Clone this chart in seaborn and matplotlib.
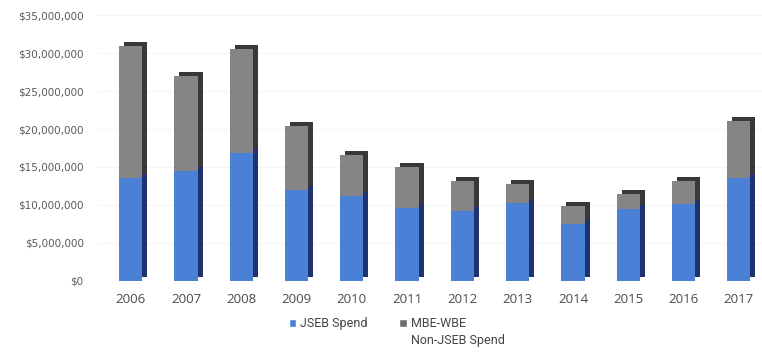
import matplotlib
matplotlib.use("Agg")
import matplotlib.pyplot as plt
import matplotlib.transforms as mtransforms
from matplotlib.patches import Patch
from matplotlib.ticker import FuncFormatter
import seaborn as sns
import pandas as pd

years = ["2006", "2007", "2008", "2009", "2010", "2011", "2012", "2013", "2014", "2015", "2016", "2017"]
jseb_spend = [13.6, 14.5, 16.8, 12.0, 11.2, 9.6, 9.2, 10.3, 7.5, 9.5, 10.1, 13.6]  # $ millions
total_spend = [30.9, 27.0, 30.5, 20.4, 16.6, 15.0, 13.2, 12.8, 9.9, 11.4, 13.2, 21.0]  # $ millions
non_jseb_spend = [t - j for t, j in zip(total_spend, jseb_spend)]
y_ticks = [0, 5, 10, 15, 20, 25, 30, 35]
series_names = ["JSEB Spend", "MBE-WBE", "Non-JSEB Spend"]

df = pd.DataFrame({
    "year": years,
    "jseb": [v * 1e6 for v in jseb_spend],
    "total": [(j + n) * 1e6 for j, n in zip(jseb_spend, non_jseb_spend)],
})

sns.set_theme(style="white")
fig = plt.figure(figsize=(7.62, 3.61), dpi=100)
ax = fig.add_axes([0.128, 0.222, 0.872, 0.736])

BW = 0.42
# 3D side/top faces: darker copies shifted right/up
n0 = len(ax.patches)
sns.barplot(data=df, x="year", y="total", color="#383838", saturation=1, width=BW, ax=ax)
sns.barplot(data=df, x="year", y="jseb", color="#1f3370", saturation=1, width=BW, ax=ax)
shift = mtransforms.offset_copy(ax.transData, fig=fig, x=5, y=4, units="dots")
for p in ax.patches[n0:]:
    p.set_transform(shift)
    p.set_linewidth(0)
# front faces
sns.barplot(data=df, x="year", y="total", color="#858585", saturation=1, width=BW, ax=ax)
sns.barplot(data=df, x="year", y="jseb", color="#4a80d6", saturation=1, width=BW, ax=ax)
for p in ax.patches:
    p.set_linewidth(0)

ax.set_xlim(-0.6, 11.42)
ax.set_ylim(0, 35e6)
ax.set_yticks([v * 1e6 for v in y_ticks])
ax.yaxis.set_major_formatter(FuncFormatter(lambda v, _: "$0" if v == 0 else "${:,.0f}".format(v)))
ax.grid(axis="y", color="#f5f5f5", linewidth=0.8)
ax.set_axisbelow(True)
for s in ax.spines.values():
    s.set_visible(False)
ax.set_xlabel("")
ax.set_ylabel("")
ax.tick_params(axis="y", length=0, pad=10, labelsize=7.5, labelcolor="#5a5a5a")
ax.tick_params(axis="x", length=0, pad=9, labelsize=9.5, labelcolor="#4a4a4a")
for t in ax.get_xticklabels():
    t.set_fontfamily("Open Sans")

handles = [Patch(facecolor="#4a80d6", label=series_names[0]),
           Patch(facecolor="#6e6e6e", label=series_names[1])]
leg = fig.legend(handles=handles, loc="upper left", bbox_to_anchor=(0.364, 0.153),
                 ncol=2, frameon=False, handlelength=0.6, handleheight=0.6,
                 handletextpad=0.35, columnspacing=2.5, prop={"family": "Roboto", "size": 9})
for t in leg.get_texts():
    t.set_color("#444444")

fig.canvas.draw()
t2 = leg.get_texts()[1]
bb = t2.get_window_extent()
x0, y0 = fig.transFigure.inverted().transform((bb.x0, bb.y0))
fig.text(x0, y0 - 0.012, series_names[2], ha="left", va="top",
         family="Roboto", size=9, color="#444444")

fig.savefig("out.png", dpi=100)
